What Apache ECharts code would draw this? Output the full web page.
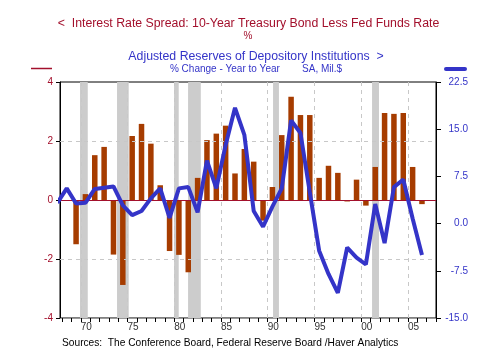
<!DOCTYPE html>
<html>
<head>
<meta charset="utf-8">
<script src="https://cdn.jsdelivr.net/npm/echarts@6/dist/echarts.min.js"></script>
<style>
  html, body { margin: 0; padding: 0; background: #fff; }
  #chart { width: 500px; height: 350px; }
</style>
</head>
<body>
<div id="chart"></div>
<script>
// ---- Data ----
const spreadYears = [1969,1970,1971,1972,1973,1974,1975,1976,1977,1978,1979,1980,1981,1982,1983,1984,1985,1986,1987,1988,1989,1990,1991,1992,1993,1994,1995,1996,1997,1998,1999,2000,2001,2002,2003,2004,2005,2006];
const spread = [-1.5,0.2,1.52,1.8,-1.85,-2.88,2.17,2.58,1.91,0.5,-1.73,-1.86,-2.45,0.75,2.03,2.25,2.52,0.9,1.73,1.3,-0.7,0.44,2.2,3.5,2.88,2.88,0.75,1.16,0.92,-0.05,0.69,-0.19,1.12,2.95,2.92,2.95,1.12,-0.14];
const reserveYears = [1967,1968,1969,1970,1971,1972,1973,1974,1975,1976,1977,1978,1979,1980,1981,1982,1983,1984,1985,1986,1987,1988,1989,1990,1991,1992,1993,1994,1995,1996,1997,1998,1999,2000,2001,2002,2003,2004,2005,2006];
const reserves = [3.3,5.6,3.2,3.3,5.5,5.7,5.9,2.9,1.35,2.0,4.0,5.6,0.9,5.6,5.8,1.8,10.0,5.6,12.5,18.4,14.1,2.0,-0.5,2.7,5.6,16.4,14.4,5.0,-4.3,-8.0,-11.0,-3.8,-5.4,-6.5,3.1,-3.1,5.8,7.0,0.8,-5.0];
const recessions = [[1969.92,1970.75],[1973.88,1975.13],[1979.98,1980.48],[1981.48,1982.84],[1990.57,1991.2],[2001.16,2001.9]];
const tickYears = [1968,1969,1970,1971,1972,1973,1974,1975,1976,1977,1978,1979,1980,1981,1982,1983,1984,1985,1986,1987,1988,1989,1990,1991,1992,1993,1994,1995,1996,1997,1998,1999,2000,2001,2002,2003,2004,2005,2006,2007,2008];
const labelYears = [1970,1975,1980,1985,1990,1995,2000,2005];
const vGridYears = [1970,1975,1980,1985,1990,1995,2000,2005];
const hGrid = [-2, 2];

const FONT = "'Liberation Sans', Arial, Helvetica, sans-serif";
const RED = '#a3102c';
const BLUE = '#3434c8';
const BAR = '#a63c00';

const chart = echarts.init(document.getElementById('chart'), null, {renderer: 'canvas'});

const option = {
  backgroundColor: '#fff',
  animation: false,
  textStyle: { fontFamily: FONT },
  grid: { left: 60, right: 64, top: 82, bottom: 32, show: true, borderColor: '#000', borderWidth: 1, backgroundColor: 'transparent' },
  xAxis: {
    type: 'value', min: 1967.78, max: 2008,
    axisLine: { show: true, onZero: false, lineStyle: { color: '#999', width: 1 } },
    axisTick: { show: true, customValues: tickYears, length: 4, inside: false, lineStyle: { color: '#000' } },
    axisLabel: { customValues: labelYears, formatter: v => String(v).slice(2), align: 'left', color: '#333', fontSize: 10, margin: 4, fontFamily: FONT },
    splitLine: { show: false }
  },
  yAxis: [
    {
      type: 'value', position: 'left', min: -4, max: 4, interval: 2,
      axisLine: { show: true, lineStyle: { color: '#000' } },
      axisTick: { show: true, length: 4, lineStyle: { color: '#000' } },
      axisLabel: { color: RED, fontSize: 10, margin: 7, fontFamily: FONT },
      splitLine: { show: false }
    },
    {
      type: 'value', position: 'right', min: -15, max: 22.5, interval: 7.5,
      axisLine: { show: true, lineStyle: { color: '#000' } },
      axisTick: { show: true, length: 5, lineStyle: { color: '#000' } },
      axisLabel: { color: BLUE, fontSize: 10, margin: 32, align: 'right', formatter: v => v.toFixed(1), fontFamily: FONT },
      splitLine: { show: false }
    }
  ],
  series: [
    {
      name: 'grid', type: 'line', data: [], z: 1, silent: true,
      markLine: {
        silent: true, symbol: 'none', label: { show: false },
        lineStyle: { color: '#c8c8c8', type: [4, 4], width: 1 },
        data: vGridYears.map(v => ({ xAxis: v })).concat(hGrid.map(v => ({ yAxis: v })))
      }
    },
    {
      name: 'recessions', type: 'line', data: [], z: 2, silent: true,
      markArea: {
        silent: true,
        itemStyle: { color: '#cccccc', opacity: 1 },
        data: recessions.map(r => [{ xAxis: r[0] }, { xAxis: r[1] }])
      }
    },
    {
      name: 'Spread', type: 'bar', yAxisIndex: 0, z: 3,
      barWidth: 5.5,
      itemStyle: { color: BAR },
      data: spreadYears.map((y, i) => [y + 0.5, spread[i]]),
      markLine: {
        silent: true, symbol: 'none', label: { show: false },
        lineStyle: { color: RED, type: 'solid', width: 1 },
        data: [{ yAxis: 0 }]
      }
    },
    {
      name: 'Reserves', type: 'line', yAxisIndex: 1, z: 5,
      showSymbol: false, symbol: 'none',
      lineStyle: { color: BLUE, width: 4 },
      data: reserveYears.map((y, i) => [y + 0.5, reserves[i]])
    }
  ],
  graphic: [
    { type: 'text', x: 248.5, y: 24, style: { text: '<  Interest Rate Spread: 10-Year Treasury Bond Less Fed Funds Rate', fill: RED, font: '12.3px ' + FONT, textAlign: 'center', textVerticalAlign: 'middle' } },
    { type: 'text', x: 248, y: 36, style: { text: '%', fill: RED, font: '10px ' + FONT, textAlign: 'center', textVerticalAlign: 'middle' } },
    { type: 'text', x: 256, y: 57, style: { text: 'Adjusted Reserves of Depository Institutions  >', fill: BLUE, font: '12.3px ' + FONT, textAlign: 'center', textVerticalAlign: 'middle' } },
    { type: 'text', x: 256, y: 69, style: { text: '% Change - Year to Year        SA, Mil.$', fill: BLUE, font: '10px ' + FONT, textAlign: 'center', textVerticalAlign: 'middle' } },
    { type: 'line', shape: { x1: 31, y1: 68.5, x2: 52, y2: 68.5 }, style: { stroke: RED, lineWidth: 1.5 } },
    { type: 'line', shape: { x1: 446, y1: 69, x2: 465, y2: 69 }, style: { stroke: BLUE, lineWidth: 4, lineCap: 'round' } },
    { type: 'text', x: 62, y: 343, style: { text: 'Sources:  The Conference Board, Federal Reserve Board /Haver Analytics', fill: '#000', font: '10.2px ' + FONT, textAlign: 'left', textVerticalAlign: 'middle' } }
  ]
};
chart.setOption(option);
</script>
</body>
</html>
